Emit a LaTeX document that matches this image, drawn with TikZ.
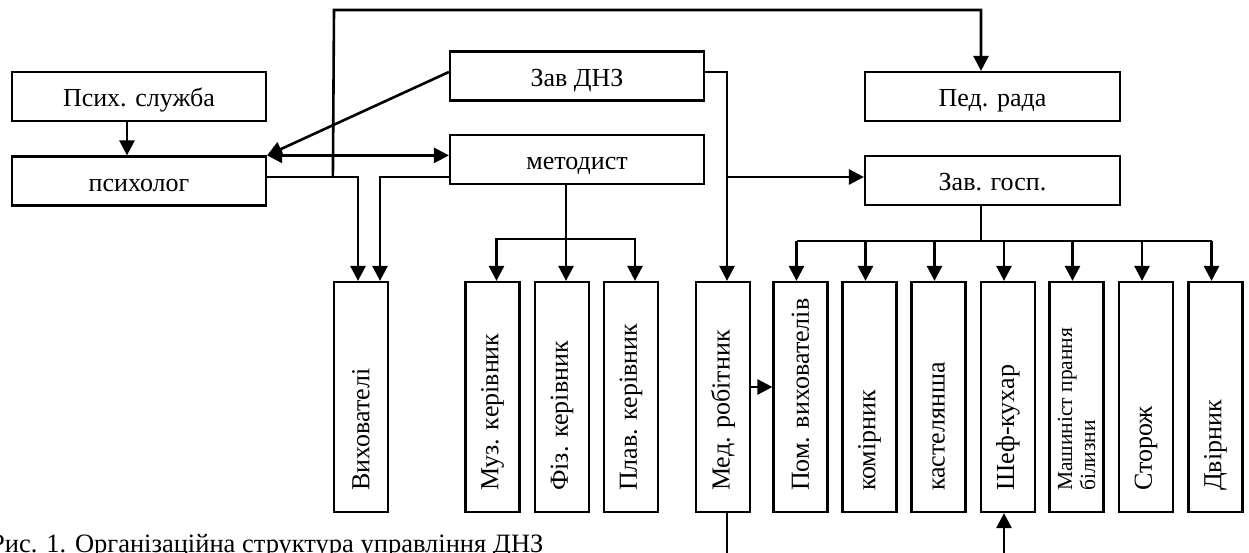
\documentclass[tikz,border=0pt]{standalone}
\usepackage{fontspec}
\setmainfont{Liberation Serif}
\usetikzlibrary{arrows.meta,calc}
\begin{document}
\begin{tikzpicture}[x=1pt,y=-1pt,
  box/.style={draw,line width=2.2pt,inner sep=0pt,font=\fontsize{26}{30}\selectfont},
  hbox/.style={box,minimum width=254pt,minimum height=49pt,text height=21pt,text depth=0pt},
  vbox/.style={box,minimum width=54pt,minimum height=230pt},
  vtext/.style={rotate=90,anchor=west,inner sep=0pt,font=\fontsize{26}{30}\selectfont},
  conn/.style={line width=2.6pt},
  arr/.style={conn,-{Triangle[length=15pt,width=15pt]}},
  arrr/.style={conn,{Triangle[length=15pt,width=15pt]}-{Triangle[length=15pt,width=15pt]}}]
\useasboundingbox (0,0) rectangle (1249,553);
% horizontal boxes
\node[hbox] (psysl) at (139,96.5) {Псих. служба};
\node[hbox] (psych) at (139,181) {психолог};
\node[hbox] (zav)   at (577,76) {Зав ДНЗ};
\node[hbox] (metod) at (577,159.5) {методист};
\node[hbox,minimum width=255pt] (ped)  at (992.5,96.5) {Пед. рада};
\node[hbox,minimum width=255pt] (gosp) at (992.5,180.5) {Зав. госп.};
% vertical boxes
\node[vbox] (vyh)   at (361,397) {};
\node[vbox] (muz)   at (492.5,397) {};
\node[vbox] (fiz)   at (562,397) {};
\node[vbox] (plav)  at (631,397) {};
\node[vbox] (med)   at (723,397) {};
\node[vbox] (pom)   at (800.5,397) {};
\node[vbox] (komir) at (869.5,397) {};
\node[vbox] (kast)  at (938.5,397) {};
\node[vbox] (shef)  at (1008,397) {};
\node[vbox] (mash)  at (1076.5,397) {};
\node[vbox] (stor)  at (1146,397) {};
\node[vbox] (dvir)  at (1215.5,397) {};
% vertical texts
\node[vtext] (tvyh)   at ([yshift=22pt]vyh.south)   {Вихователі};
\node[vtext] (tmuz)   at ([yshift=22pt]muz.south)   {Муз. керівник};
\node[vtext] (tfiz)   at ([yshift=22pt]fiz.south)   {Фіз. керівник};
\node[vtext] (tplav)  at ([yshift=22pt]plav.south)  {Плав. керівник};
\node[vtext] (tmed)   at ([yshift=22pt]med.south)   {Мед. робітник};
\node[vtext] (tpom)   at ([yshift=22pt]pom.south)   {Пом. вихователів};
\node[vtext] (tkomir) at ([yshift=22pt]komir.south) {комірник};
\node[vtext] (tkast)  at ([yshift=22pt]kast.south)  {кастелянша};
\node[vtext] (tshef)  at ([yshift=22pt]shef.south)  {Шеф-кухар};
\node[vtext,align=left,font=\fontsize{21.5}{23}\selectfont] (tmash) at ([yshift=22pt]mash.south) {Машиніст прання\\білизни};
\node[vtext] (tstor)  at ([yshift=22pt]stor.south)  {Сторож};
\node[vtext] (tdvir)  at ([yshift=22pt]dvir.south)  {Двірник};
% caption
\node[anchor=base west,inner sep=0pt,font=\fontsize{26.5}{30}\selectfont] (cap) at (-10,552) {Рис. 1. Організаційна структура управління ДНЗ};
% helper coordinates
\coordinate (pe) at ([yshift=4pt]psych.east);
\coordinate (j1) at (pe -| vyh.west);
\coordinate (topL) at (334,10);
\coordinate (bot) at (0,565);
\coordinate (mx) at ([xshift=4pt]med.north);
\coordinate (gw) at ([yshift=3.5pt]gosp.west);
% connectors
\draw[arr] ([xshift=-12pt]psysl.south) -- ([xshift=-12pt]psych.north);
\draw[arr] ([yshift=4pt]zav.west) -- (psych.north east);
\draw[arrr] (psych.north east) -- (psych.north east -| metod.west);
\draw[arr] (pe) -| ([xshift=-3pt]vyh.north);
\draw[arr] ([yshift=-17.5pt]metod.west) -| ([xshift=19pt]vyh.north);
\draw[arr] (j1) -- (topL) -| ([xshift=-11.5pt]ped.north);
\draw[arr] ([yshift=4pt]zav.east) -| (mx);
\draw[arr] (gw -| mx) -- (gw);
% metodist branch
\draw[arr] ([xshift=-11pt]metod.south) -- ([xshift=4pt]fiz.north);
\draw[arr] ([xshift=4pt,yshift=42pt]fiz.north) -| ([xshift=4pt]muz.north);
\draw[arr] ([xshift=4pt,yshift=42pt]fiz.north) -| ([xshift=4pt]plav.north);
% zav gosp branch
\coordinate (bus2) at ([xshift=-11.5pt,yshift=-35pt]gosp.south);
\foreach \b in {pom,komir,kast,shef,mash,stor,dvir}
  \coordinate (a\b) at ([xshift=-4pt]\b.north);
\draw[conn] ([xshift=-11.5pt]gosp.south) -- (bus2);
\draw[conn] (bus2 -| apom) -- (bus2 -| advir);
\foreach \b in {pom,komir,kast,shef,mash,stor,dvir}
  \draw[arr] (bus2 -| a\b) -- (a\b);
% medical
\coordinate (ms) at ([xshift=4pt]med.south);
\coordinate (ss) at ([xshift=-4pt]shef.south);
\draw[arr] ([yshift=10pt]med.east) -- ([yshift=10pt]pom.west);
\draw[conn] (ms) -- (ms |- bot);
\draw[arr] (ss |- bot) -- (ss);
\end{tikzpicture}
\end{document}
